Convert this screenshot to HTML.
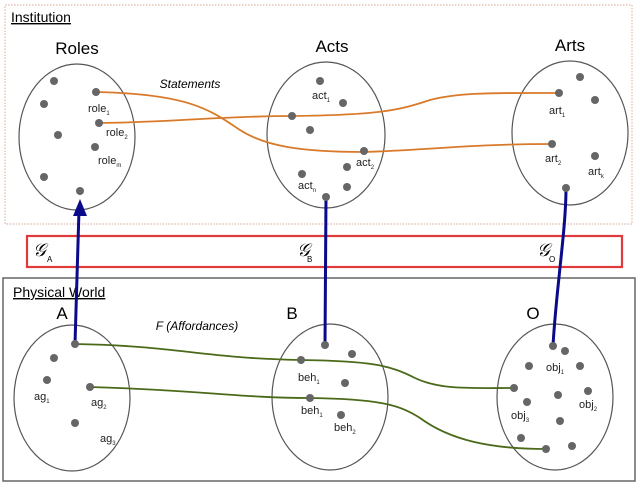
<!DOCTYPE html>
<html><head><style>
html,body{margin:0;padding:0;background:#fff;}
svg{display:block;font-family:"Liberation Sans",sans-serif;}
</style></head><body>
<svg width="640" height="484" viewBox="0 0 640 484" xmlns="http://www.w3.org/2000/svg">
<rect x="5" y="5" width="627" height="219" fill="none" stroke="#e0b8a8" stroke-width="1.2" stroke-dasharray="1.5,1.5"/>
<text x="11" y="22" font-size="14" text-decoration="underline">Institution</text>
<g fill="none" stroke="#555" stroke-width="1.2">
<ellipse cx="77" cy="137" rx="58" ry="73"/>
<ellipse cx="326" cy="135" rx="59" ry="73"/>
<ellipse cx="570" cy="133" rx="58" ry="72"/>
<ellipse cx="72" cy="398" rx="58" ry="73"/>
<ellipse cx="330" cy="397" rx="58" ry="73"/>
<ellipse cx="555" cy="397" rx="58" ry="73"/>
</g>
<g font-size="17" text-anchor="middle">
<text x="77" y="54">Roles</text><text x="332" y="52">Acts</text><text x="570" y="51">Arts</text>
<text x="62" y="319">A</text><text x="292" y="319">B</text><text x="533" y="319">O</text>
</g>
<text x="190" y="88" font-size="12" font-style="italic" text-anchor="middle">Statements</text>
<text x="197" y="330" font-size="12" font-style="italic" text-anchor="middle">F (Affordances)</text>
<g fill="none" stroke="#d97a2a" stroke-width="1.8">
<path d="M96,92 C190,94 210,110 240,130 C265,146 300,152 364,152 C430,150 470,144 552,144"/>
<path d="M99,123 C180,122 220,116 292,116 C380,115 400,110 430,100 C460,92 500,93 559,93"/>
</g>
<g fill="none" stroke="#4a6a1a" stroke-width="1.8">
<path d="M75,344 C180,346 200,358 301,360 C370,361 390,365 415,378 C440,390 470,388 514,388"/>
<path d="M90,387 C200,390 240,398 310,398 C380,399 400,405 420,418 C450,440 490,449 546,449"/>
</g>
<rect x="27" y="236" width="595" height="31" fill="none" stroke="#e03a3a" stroke-width="2.2"/>
<g font-family="Liberation Serif,serif" font-style="italic" font-size="18">
<text x="33" y="256">𝒢</text><text x="297" y="256">𝒢</text><text x="537" y="256">𝒢</text>
</g>
<g font-size="8"><text x="47" y="262">A</text><text x="307" y="262">B</text><text x="549" y="262">O</text></g>
<rect x="3" y="278" width="632" height="203" fill="none" stroke="#666" stroke-width="1.5"/>
<text x="13" y="297" font-size="14" text-decoration="underline">Physical World</text>
<g stroke="#0a0a8a" stroke-width="3" fill="none">
<path d="M75,344 L79,210"/>
<path d="M325,345 L326,197"/>
<path d="M553,346 C556,290 566,230 566,188"/>
</g>
<polygon points="80,199 73,216 87,216" fill="#0a0a8a"/>
<g fill="#666">
<circle cx="54" cy="81" r="4"/><circle cx="44" cy="104" r="4"/><circle cx="58" cy="135" r="4"/><circle cx="44" cy="177" r="4"/><circle cx="80" cy="191" r="4"/><circle cx="96" cy="92" r="4"/><circle cx="99" cy="123" r="4"/><circle cx="95" cy="147" r="4"/>
<circle cx="320" cy="81" r="4"/><circle cx="343" cy="103" r="4"/><circle cx="292" cy="116" r="4"/><circle cx="310" cy="130" r="4"/><circle cx="364" cy="151" r="4"/><circle cx="347" cy="167" r="4"/><circle cx="302" cy="174" r="4"/><circle cx="347" cy="187" r="4"/><circle cx="326" cy="197" r="4"/>
<circle cx="580" cy="77" r="4"/><circle cx="559" cy="93" r="4"/><circle cx="595" cy="100" r="4"/><circle cx="552" cy="144" r="4"/><circle cx="595" cy="156" r="4"/><circle cx="566" cy="188" r="4"/>
<circle cx="75" cy="344" r="4"/><circle cx="54" cy="358" r="4"/><circle cx="47" cy="380" r="4"/><circle cx="90" cy="387" r="4"/><circle cx="75" cy="423" r="4"/>
<circle cx="325" cy="345" r="4"/><circle cx="352" cy="354" r="4"/><circle cx="301" cy="360" r="4"/><circle cx="345" cy="383" r="4"/><circle cx="310" cy="398" r="4"/><circle cx="341" cy="415" r="4"/>
<circle cx="553" cy="346" r="4"/><circle cx="565" cy="351" r="4"/><circle cx="529" cy="366" r="4"/><circle cx="580" cy="366" r="4"/><circle cx="514" cy="388" r="4"/><circle cx="588" cy="391" r="4"/><circle cx="558" cy="395" r="4"/><circle cx="527" cy="402" r="4"/><circle cx="560" cy="421" r="4"/><circle cx="521" cy="438" r="4"/><circle cx="546" cy="449" r="4"/><circle cx="572" cy="446" r="4"/>
</g>
<g font-size="11" fill="#222">
<text x="88" y="112">role<tspan font-size="6" dy="3">1</tspan></text>
<text x="106" y="136">role<tspan font-size="6" dy="3">2</tspan></text>
<text x="98" y="164">role<tspan font-size="6" dy="3">m</tspan></text>
<text x="312" y="99">act<tspan font-size="6" dy="3">1</tspan></text>
<text x="356" y="166">act<tspan font-size="6" dy="3">2</tspan></text>
<text x="298" y="189">act<tspan font-size="6" dy="3">n</tspan></text>
<text x="549" y="114">art<tspan font-size="6" dy="3">1</tspan></text>
<text x="545" y="162">art<tspan font-size="6" dy="3">2</tspan></text>
<text x="588" y="175">art<tspan font-size="6" dy="3">k</tspan></text>
<text x="34" y="400">ag<tspan font-size="6" dy="3">1</tspan></text>
<text x="91" y="406">ag<tspan font-size="6" dy="3">2</tspan></text>
<text x="100" y="442">ag<tspan font-size="6" dy="3">3</tspan></text>
<text x="298" y="381">beh<tspan font-size="6" dy="3">1</tspan></text>
<text x="301" y="414">beh<tspan font-size="6" dy="3">1</tspan></text>
<text x="334" y="431">beh<tspan font-size="6" dy="3">2</tspan></text>
<text x="546" y="371">obj<tspan font-size="6" dy="3">1</tspan></text>
<text x="579" y="408">obj<tspan font-size="6" dy="3">2</tspan></text>
<text x="511" y="419">obj<tspan font-size="6" dy="3">3</tspan></text>
</g>
</svg>
</body></html>
